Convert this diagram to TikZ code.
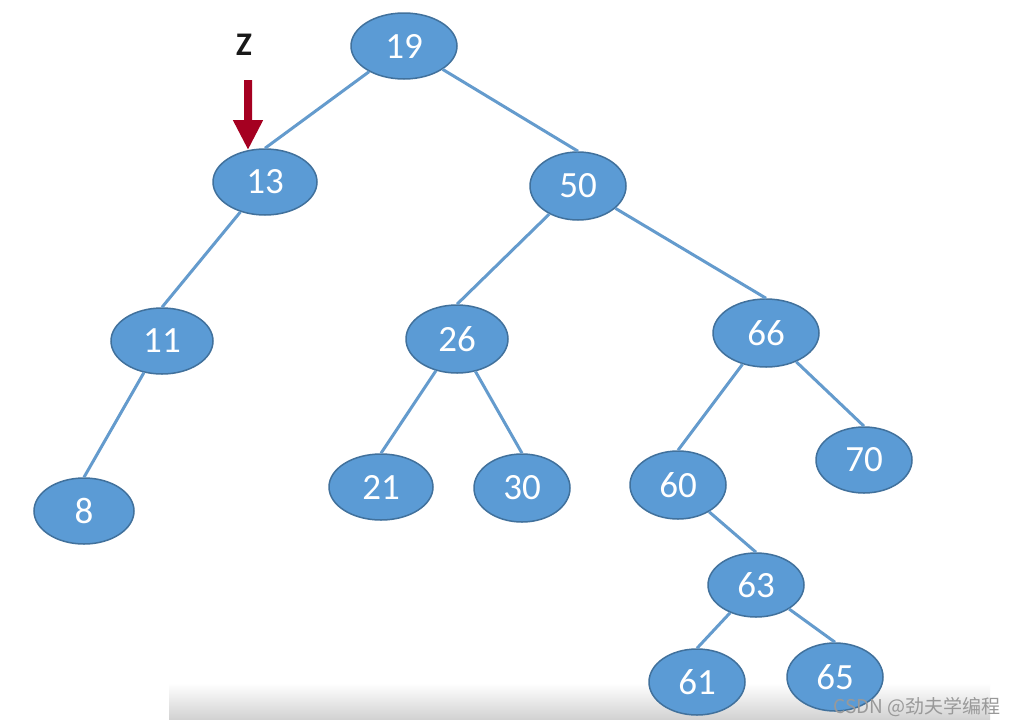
\documentclass[tikz,border=0pt]{standalone}
\usepackage{fontspec}
\setmainfont{Carlito}
\newfontfamily\cjk{Noto Sans CJK SC}
\usetikzlibrary{shapes.geometric,arrows.meta}
\definecolor{nodefill}{RGB}{91,155,213}
\definecolor{nodeline}{RGB}{65,113,156}
\definecolor{edgecol}{RGB}{100,155,205}
\definecolor{zred}{RGB}{165,0,33}
\definecolor{bandbot}{RGB}{210,210,210}
\tikzset{
  tn/.style={ellipse, draw=nodeline, line width=1.5pt, fill=nodefill, text=white,
    inner sep=0pt, minimum width=#1, minimum height=66pt, font=\fontsize{37}{37}\selectfont},
  tn/.default=100pt,
  edge/.style={draw=edgecol, line width=3pt}
}
\begin{document}
\begin{tikzpicture}[x=1pt,y=-1pt]
\useasboundingbox (0,0) rectangle (1019,726);
\fill[white] (0,0) rectangle (1019,726);
% bottom band (behind the tree)
\shade[top color=white, bottom color=bandbot] (169,683) rectangle (990,719);
% nodes
\node[tn=106pt] (n19) at (404,46) {19};
\node[tn=104pt] (n13) at (265,182) {13};
\node[tn=96pt, minimum height=68pt] (n50) at (578,186) {50};
\node[tn=102pt] (n11) at (162,341) {11};
\node[tn=102pt, minimum height=68pt] (n26) at (457,339) {26};
\node[tn=106pt, minimum height=68pt] (n66) at (766,333) {66};
\node[tn=100pt] (n8) at (84,511) {8};
\node[tn=104pt] (n21) at (381,487) {21};
\node[tn=96pt, minimum height=68pt] (n30) at (522,488) {30};
\node[tn=96pt, minimum height=68pt] (n60) at (678,485) {60};
\node[tn=96pt] (n70) at (864,460) {70};
\node[tn=96pt, minimum height=64pt] (n63) at (756,585) {63};
\node[tn=96pt] (n61) at (697,682) {61};
\node[tn=96pt, minimum height=68pt] (n65) at (835,677) {65};
% edges
\path[edge] (n19) -- (n13.north);
\path[edge] (n19) -- (n50.north);
\path[edge] (n13) -- (n11.north);
\path[edge] (n11) -- (n8.north);
\path[edge] (n50) -- (n26.north);
\path[edge] (n50) -- (n66.north);
\path[edge] (n26) -- (n21.north);
\path[edge] (n26) -- (n30.north);
\path[edge] (n66) -- (n60.north);
\path[edge] (n66) -- (n70.north);
\path[edge] (n60) -- (n63.north);
\path[edge] (n63) -- (n61.north);
\path[edge] (n63) -- (n65.north);
% Z pointer
\node[font=\bfseries\fontsize{33}{33}\selectfont, text=black!90] (z) at (244,45) {Z};
\coordinate (zt) at (248,80);
\draw[zred, line width=8pt, -{Triangle[width=28pt,length=30pt]}] (zt) -- (n13.118);
% watermark
\node[anchor=east, text=black!40, font=\cjk\fontsize{19}{19}\selectfont] (wm) at (1004,707) {CSDN @劲夫学编程};
\end{tikzpicture}
\end{document}
